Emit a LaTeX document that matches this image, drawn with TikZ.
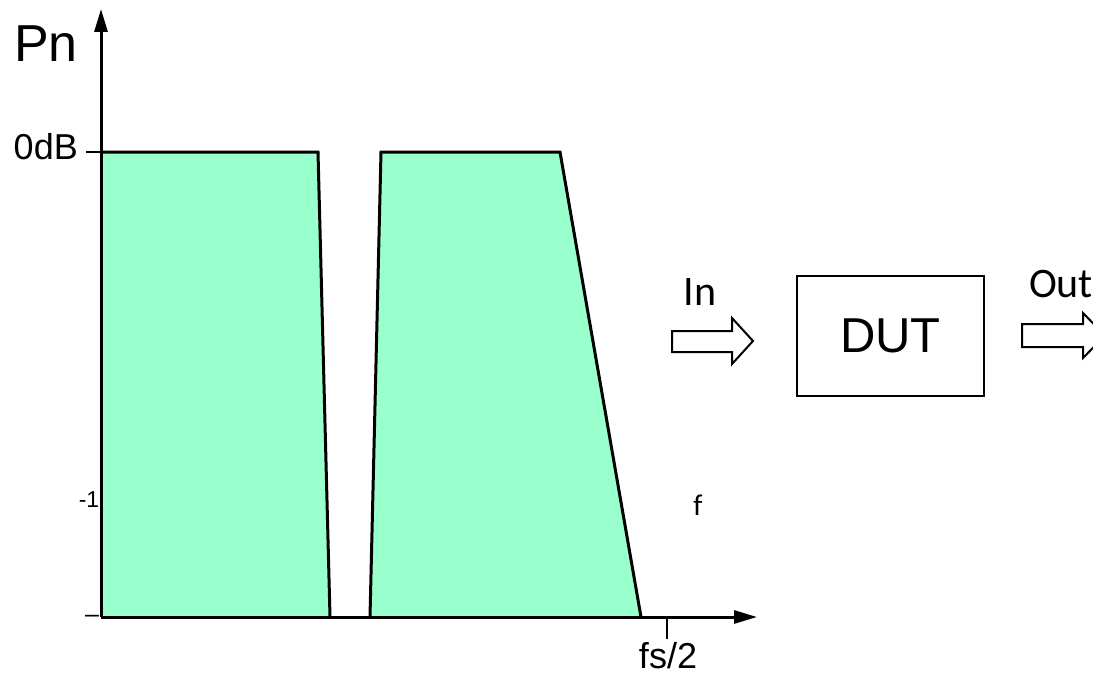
\documentclass[tikz,border=0pt]{standalone}
\usepackage{fontspec}
\setmainfont{Liberation Sans}
\newfontfamily\carlito{Carlito}
\usetikzlibrary{arrows.meta,positioning}
\definecolor{mint}{HTML}{99FFCC}

\begin{document}
\begin{tikzpicture}[x=1pt,y=-1pt,
  axis/.style={line width=3pt,-{Triangle[length=23pt,width=13pt]}},
  band/.style={fill=mint},
  edge/.style={line width=3pt,line join=miter},
  tick/.style={line width=1.5pt},
  lbl/.style={inner sep=0pt,font=\fontsize{36}{40}\selectfont},
  note/.style={inner sep=0pt,font=\carlito\fontsize{42}{46}\selectfont},
  blk/.style={draw,line width=2pt,line join=miter}]
\useasboundingbox (0,0) rectangle (1093,677);
% noise bands
\fill[band] (101,152) -- (318,152) -- (330,617) -- (101,617) -- cycle;
\fill[band] (370,617) -- (381,152) -- (560,152) -- (641,617) -- cycle;
\draw[edge] (101,152) -- (318,152) -- (330,617);
\draw[edge] (370,617) -- (381,152) -- (560,152) -- (641,617);
% axes
\coordinate (o) at (101,617);
\coordinate (ytop) at (101,9);
\coordinate (xend) at (757,617);
\draw[axis] (o) -- (ytop);
\draw[axis] (o) -- (xend);
\coordinate (t0) at (86,152);
\coordinate (t0r) at (101,152);
\draw[tick] (t0) -- (t0r);
\coordinate (fs) at (667,617);
\coordinate (fsb) at (667,639);
\draw[tick] (fs) -- (fsb);
\node[lbl,font=\fontsize{52}{56}\selectfont] (pn) at (46,44) {Pn};
\node[lbl,anchor=east] (zero) at (78,147) {0dB};
\node[lbl,font=\fontsize{23}{26}\selectfont] (m1) at (89,500) {-1};
\node[lbl,font=\fontsize{25}{28}\selectfont] (bot) at (92,619) {--};
\node[lbl] (half) at (668,656) {fs/2};
\node[note,font=\carlito\fontsize{30}{34}\selectfont] (f) at (698,505) {f};
% signal path
\node[note] (in) at (700,292) {In};
\draw[blk] (672,331) -- (732,331) -- (732,318) -- (753,341) -- (732,364)
  -- (732,352) -- (672,352) -- cycle;
\node[draw,line width=2pt,minimum width=187pt,minimum height=120pt,
  font=\fontsize{49}{54}\selectfont] (dut) at (890.5,336) {DUT};
\node[note] (out) at (1061,284) {Out};
\draw[blk] (1022,324) -- (1083,324) -- (1083,313) -- (1105,335.5) -- (1083,358)
  -- (1083,347) -- (1022,347) -- cycle;
\end{tikzpicture}
\end{document}
